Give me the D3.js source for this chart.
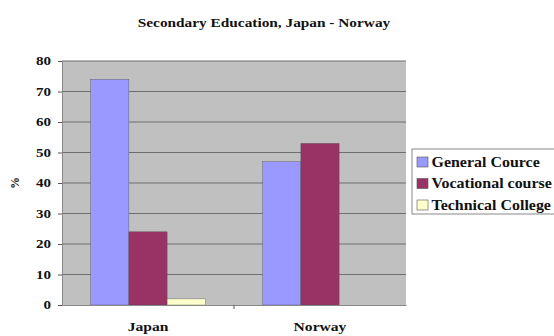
<!DOCTYPE html>
<html><head><meta charset="utf-8">
<script src="https://cdn.jsdelivr.net/npm/d3@7"></script>
<style>body{margin:0;background:#fff}svg{display:block}</style>
</head><body><div id="c"></div>
<script>
const categories = ["Japan", "Norway"];
const seriesNames = ["General Cource", "Vocational course", "Technical College"];
const generalCource = [74, 47];
const vocationalCourse = [24, 53];
const technicalCollege = [2, 0];
const yTicks = [0, 10, 20, 30, 40, 50, 60, 70, 80];
const colors = ["#9999FF", "#993366", "#FFFFCC"];

const FONT = '"Liberation Serif"';
function styleText(sel, size) {
  sel.style("font-family", FONT).style("font-weight", "bold").style("font-size", size + "px").attr("fill", "#111");
}

const W = 554, H = 336;
const m = {l: 62, r: 148, t: 61, b: 31};
const svg = d3.select("#c").append("svg").attr("width", W).attr("height", H);
const iw = W - m.l - m.r, ih = H - m.t - m.b;
const g = svg.append("g").attr("transform", `translate(${m.l},${m.t})`);

const x = d3.scaleBand().domain(categories).range([0, iw]).paddingInner(0).paddingOuter(0);
const x1 = d3.scaleBand().domain(seriesNames).range([0, x.bandwidth()]).paddingInner(0).paddingOuter(0.75);
const y = d3.scaleLinear().domain([0, 80]).range([ih, 0]);

g.append("rect").attr("width", iw).attr("height", ih).attr("fill", "#C0C0C0");
g.selectAll(".grid").data(yTicks.filter(d => d > 0)).join("line")
  .attr("x1", 0).attr("x2", iw).attr("y1", d => y(d)).attr("y2", d => y(d))
  .attr("stroke", "#6e6e6e").attr("stroke-width", 1);

const data = [generalCource, vocationalCourse, technicalCollege];
categories.forEach((c, ci) => {
  seriesNames.forEach((s, si) => {
    const v = data[si][ci];
    if (v <= 0) return;
    g.append("rect").attr("x", x(c) + x1(s)).attr("y", y(v))
      .attr("width", x1.bandwidth()).attr("height", y(0) - y(v))
      .attr("fill", colors[si]).attr("stroke", "#555").attr("stroke-width", 0.4);
  });
});

const ya = g.append("g").call(d3.axisLeft(y).tickValues(yTicks).tickSize(4).tickPadding(4.8));
ya.select(".domain").attr("stroke", "#888");
ya.selectAll(".tick line").attr("stroke", "#555");
styleText(ya.selectAll("text"), 12);
ya.selectAll("text").attr("transform", "scale(1.25,1)");

const xa = g.append("g").attr("transform", `translate(0,${ih})`).call(d3.axisBottom(x).tickSize(0).tickPadding(17));
xa.select(".domain").attr("stroke", "#888");
styleText(xa.selectAll("text"), 13);
xa.selectAll("text").attr("transform", "scale(1.2,1)");
g.append("line").attr("x1", x.bandwidth()).attr("x2", x.bandwidth()).attr("y1", ih).attr("y2", ih + 4).attr("stroke", "#555");

styleText(svg.append("text").attr("transform", "translate(264,27) scale(1.18,1)").attr("text-anchor", "middle").text("Secondary Education, Japan - Norway"), 13);
styleText(svg.append("text").attr("transform", "translate(19,183) rotate(-90)").attr("text-anchor", "middle").text("%"), 12);

const lg = svg.append("g").attr("transform", "translate(412,149)");
lg.append("rect").attr("width", 150).attr("height", 65).attr("fill", "#fff").attr("stroke", "#888");
seriesNames.forEach((s, i) => {
  const row = lg.append("g").attr("transform", `translate(5,${13 + i * 21.5})`);
  row.append("rect").attr("x", 0).attr("y", -5).attr("width", 11).attr("height", 10).attr("fill", colors[i]).attr("stroke", "#555").attr("stroke-width", 0.6);
  styleText(row.append("text").attr("transform", "translate(14.5,4.5) scale(1.14,1)").text(s), 14);
});
</script></body></html>
